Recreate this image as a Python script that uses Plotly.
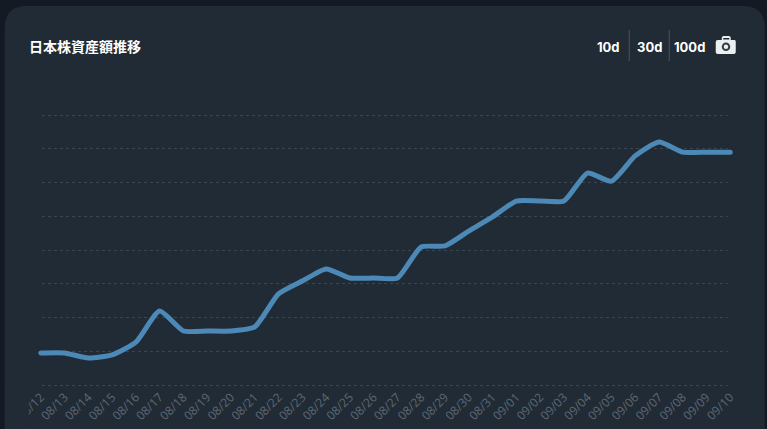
import plotly.graph_objects as go

dates = ["08/12","08/13","08/14","08/15","08/16","08/17","08/18","08/19","08/20","08/21",
         "08/22","08/23","08/24","08/25","08/26","08/27","08/28","08/29","08/30","08/31",
         "09/01","09/02","09/03","09/04","09/05","09/06","09/07","09/08","09/09","09/10"]
assets = [0.95,0.95,0.80,0.89,1.27,2.19,1.60,1.60,1.60,1.72,
          2.70,3.08,3.44,3.17,3.17,3.17,4.09,4.12,4.56,4.98,
          5.45,5.45,5.45,6.28,6.04,6.79,7.20,6.90,6.90,6.90]
title = "日本株資産額推移"
buttons = ["10d", "30d", "100d"]

W, H = 767, 429
X_PAD = 0.2
STEP = 689.5 / 29
L, R, T, B = 41 - X_PAD * STEP, 730.5 + X_PAD * STEP, 113, 387
Y_PAD = 2 / 33.75
PAGE = "#141a24"
CARD = "#212b36"
LINE = "#4d89b7"
GRID = "#3a4550"
TICK = "#5d6873"
CJK = "Noto Sans CJK JP"
UI = "Inter"

def px(x): return (x - L) / (R - L)
def py(y): return (B - y) / (B - T)
def dx(x): return (x - 41) / STEP

shapes = []
r = 22
card = (f"M {px(5)} {py(429)} L {px(5)} {py(6+r)} Q {px(5)} {py(6)} {px(5+r)} {py(6)} "
        f"L {px(765-r)} {py(6)} Q {px(765)} {py(6)} {px(765)} {py(6+r)} L {px(765)} {py(429)} Z")
shapes.append(dict(type="path", xref="paper", yref="paper", path=card, fillcolor=CARD, line_width=0, layer="below"))
for x0, x1 in ((728, 738), (33, 41)):
    shapes.append(dict(type="rect", xref="x", yref="y", x0=dx(x0), x1=dx(x1), y0=-1, y1=9,
                       fillcolor=CARD, line_width=0, layer="between"))
shapes.append(dict(type="rect", xref="paper", yref="paper", x0=px(5), x1=px(29), y0=py(386), y1=py(429),
                   fillcolor=CARD, line_width=0, layer="above"))
for x in (629.5, 669.5):
    shapes.append(dict(type="line", xref="paper", yref="paper", x0=px(x), x1=px(x), y0=py(30), y1=py(61),
                       line=dict(color="#4a545e", width=1)))
shapes.append(dict(type="path", xref="paper", yref="paper",
                   path=(f"M {px(718)} {py(40)} L {px(722)} {py(40)} L {px(722)} {py(38)} Q {px(722)} {py(36)} {px(724)} {py(36)} "
                         f"L {px(729)} {py(36)} Q {px(731)} {py(36)} {px(731)} {py(38)} L {px(731)} {py(40)} L {px(735)} {py(40)} "
                         f"Q {px(736)} {py(40)} {px(736)} {py(42)} L {px(736)} {py(52)} Q {px(736)} {py(54)} {px(734)} {py(54)} "
                         f"L {px(718)} {py(54)} Q {px(716)} {py(54)} {px(716)} {py(52)} L {px(716)} {py(42)} Q {px(716)} {py(40)} {px(718)} {py(40)} Z"),
                   fillcolor="#eceff1", line_width=0))
shapes.append(dict(type="rect", xref="paper", yref="paper", x0=px(723.5), x1=px(729.5), y0=py(38), y1=py(39.5),
                   fillcolor=CARD, line_width=0))
shapes.append(dict(type="circle", xref="paper", yref="paper", x0=px(723), x1=px(729.5), y0=py(43.5), y1=py(50),
                   fillcolor="#eceff1", line=dict(color="#333d47", width=2)))

annotations = [dict(text=f"<b>{title}</b>", xref="paper", yref="paper", x=px(27), y=py(46), xanchor="left", yanchor="middle",
                    showarrow=False, font=dict(family=CJK, size=14, color="#ffffff"))]
for label, cx in zip(buttons, (609, 649.5, 689.5)):
    annotations.append(dict(text=f"<b>{label}</b>", xref="paper", yref="paper", x=px(cx), y=py(47), xanchor="center", yanchor="middle",
                            showarrow=False, font=dict(family=UI, size=13, color="#ffffff")))

fig = go.Figure(go.Scatter(x=list(range(len(dates))), y=assets, mode="lines", cliponaxis=False,
                           line=dict(color=LINE, width=5, shape="spline", smoothing=0.55), hoverinfo="skip"))
fig.update_layout(
    width=W, height=H, autosize=False, showlegend=False,
    paper_bgcolor=PAGE, plot_bgcolor="rgba(0,0,0,0)",
    margin=dict(l=L, r=W-R, t=T, b=H-B, pad=0, autoexpand=False),
    shapes=shapes, annotations=annotations,
    font=dict(family=UI),
)
fig.update_xaxes(range=[-X_PAD, 29 + X_PAD], autorange=False, automargin=False, tickmode="array", tickvals=list(range(len(dates))), ticktext=dates,
                 tickangle=-45, showgrid=False, zeroline=False, showline=False,
                 ticks="", ticklen=0,
                 tickfont=dict(family="Open Sans", size=12, color=TICK))
fig.update_yaxes(range=[-Y_PAD, 8 + Y_PAD], autorange=False, automargin=False, dtick=1, showticklabels=False, zeroline=False, showline=False,
                 showgrid=True, gridcolor=GRID, gridwidth=1, griddash="3px,3px")

post = (f"document.body.style.margin='0';document.body.style.overflow='hidden';document.body.style.background='{PAGE}';"
        "var s=document.createElement('style');"
        "s.textContent='.scatterlayer path.js-line{stroke-linecap:round !important;stroke-linejoin:round !important;}';"
        "document.head.appendChild(s);")
fig.write_html("out.html", config=dict(displayModeBar=False), post_script=post)
